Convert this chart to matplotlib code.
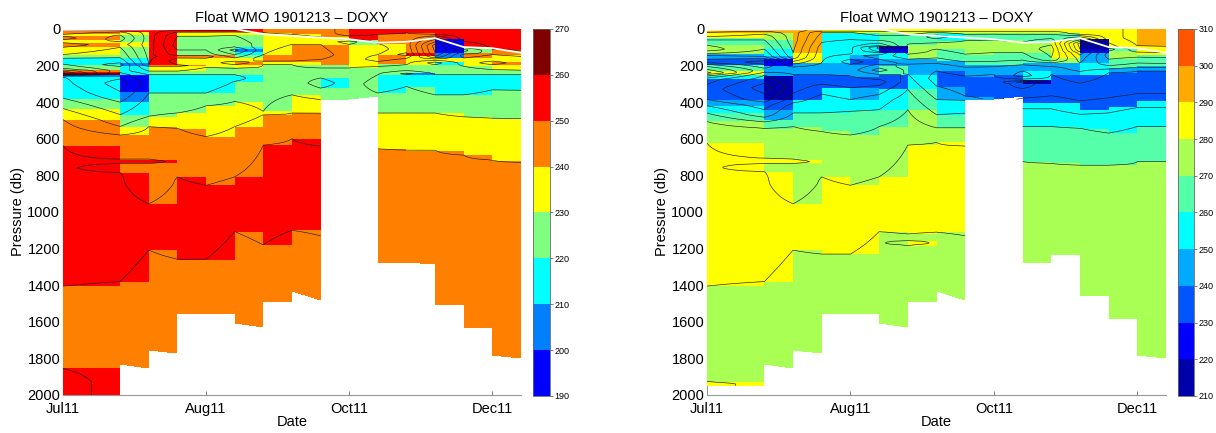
import numpy as np
import matplotlib
matplotlib.use("Agg")
import matplotlib.pyplot as plt
import matplotlib.dates as mdates
from matplotlib.colors import ListedColormap, BoundaryNorm
from matplotlib.cm import ScalarMappable

plt.rcParams['font.family'] = ['Liberation Sans', 'DejaVu Sans']

# profile dates (10-day Argo cycle, one profile missing)
prof_dates = ['2011-07-08', '2011-07-28', '2011-08-07', '2011-08-17', '2011-08-27',
              '2011-09-06', '2011-09-16', '2011-09-26', '2011-10-06', '2011-10-16',
              '2011-10-26', '2011-11-05', '2011-11-15', '2011-11-25', '2011-12-05',
              '2011-12-15']
tick_dates = ['2011-07-08', '2011-08-27', '2011-10-16', '2011-12-05']

# white line near the surface (db), one value per profile
mld = [5, 3, 2, 1, 0, 0, 28, 38, 47, 56, 75, 70, 50, 99, 105, 130]

# DOXY per profile: (top pressure of layer, value)
left_doxy = [
    [(0, 255), (6, 245), (30, 235), (40, 245), (58, 235), (75, 245), (100, 235), (140, 225), (160, 215),
     (192, 225), (222, 245), (231, 255), (240, 265), (250, 205), (262, 215), (378, 225), (435, 235),
     (495, 245), (636, 255), (1405, 245), (1855, 255)],
    [(0, 255), (11, 235), (33, 225), (70, 235), (100, 225), (158, 215), (185, 205), (205, 215), (250, 195),
     (342, 205), (400, 215), (468, 225), (533, 235), (579, 245), (713, 255), (735, 245), (785, 255), (1380, 245)],
    [(0, 255), (195, 245), (205, 235), (230, 225), (250, 215), (350, 225), (477, 235), (533, 245), (713, 255),
     (735, 245), (955, 255), (1208, 245)],
    [(0, 255), (11, 235), (39, 225), (140, 245), (158, 235), (195, 245), (205, 235), (230, 225), (250, 215),
     (350, 225), (459, 235), (542, 245), (808, 255), (1258, 245)],
    [(0, 255), (11, 235), (39, 225), (140, 245), (160, 235), (210, 225), (250, 215), (350, 225), (420, 235),
     (588, 245), (854, 255), (1258, 245)],
    [(0, 255), (11, 235), (35, 225), (99, 215), (110, 205), (122, 215), (140, 225), (158, 235), (176, 245),
     (195, 235), (215, 225), (250, 215), (286, 225), (396, 235), (533, 245), (808, 255), (1107, 245)],
    [(0, 245), (20, 235), (140, 245), (176, 235), (195, 225), (450, 235), (468, 245), (634, 255), (1180, 245)],
    [(0, 245), (28, 235), (84, 245), (176, 235), (195, 225), (360, 235), (459, 245), (600, 255), (1100, 245)],
    [(0, 245), (44, 235), (84, 245), (195, 225), (268, 215), (323, 225), (386, 235), (460, 245), (640, 255),
     (1130, 245)],
    [(0, 255), (57, 225), (84, 235), (213, 225)],
    [(0, 255), (30, 245), (80, 235), (140, 245), (190, 225), (250, 215), (350, 225), (459, 235), (655, 245)],
    [(0, 255), (20, 245), (130, 255), (149, 235), (195, 225), (238, 205), (248, 215), (314, 225), (459, 235),
     (661, 245)],
    [(0, 255), (51, 195), (130, 205), (158, 235), (176, 215), (195, 225), (250, 215), (360, 225), (459, 235),
     (661, 245)],
    [(0, 255), (103, 225), (130, 245), (158, 235), (204, 225), (250, 215), (360, 225), (480, 235), (689, 245)],
    [(0, 255), (112, 245), (140, 235), (176, 245), (195, 235), (222, 225), (250, 215), (332, 225), (487, 235),
     (716, 245)],
    [(0, 255), (120, 245), (150, 235), (200, 235), (225, 225), (250, 215), (335, 225), (490, 235), (730, 245)],
]

right_doxy = [
    [(0, 295), (18, 285), (50, 265), (90, 275), (135, 245), (165, 235), (193, 265), (230, 285), (248, 255),
     (275, 235), (386, 245), (420, 255), (460, 265), (505, 275), (624, 285), (1405, 275), (1928, 285)],
    [(0, 295), (18, 275), (60, 265), (110, 255), (150, 245), (165, 225), (202, 245), (253, 215), (386, 235),
     (441, 245), (496, 265), (542, 275), (707, 285), (735, 275), (780, 285), (1380, 275)],
    [(0, 295), (129, 285), (184, 245), (248, 235), (386, 255), (459, 265), (533, 275), (713, 285), (735, 275),
     (955, 285), (1208, 275)],
    [(0, 285), (18, 255), (184, 245), (248, 235), (321, 255), (459, 265), (560, 275), (808, 285), (1230, 275)],
    [(0, 285), (18, 255), (138, 245), (165, 235), (193, 245), (257, 235), (321, 245), (386, 255), (450, 265),
     (579, 275), (854, 285), (1230, 275)],
    [(0, 285), (18, 265), (92, 215), (110, 225), (129, 255), (165, 245), (202, 265), (248, 235), (330, 255),
     (441, 265), (533, 275), (808, 285), (1107, 275)],
    [(0, 285), (18, 265), (83, 275), (165, 245), (248, 255), (330, 265), (441, 275), (634, 285), (1120, 275),
     (1157, 285), (1181, 275)],
    [(0, 285), (18, 255), (64, 275), (110, 265), (174, 245), (230, 235), (312, 245), (386, 255), (468, 265),
     (540, 275), (620, 285), (1110, 275)],
    [(0, 285), (18, 265), (64, 275), (138, 265), (193, 245), (257, 235), (367, 245), (390, 255), (460, 265),
     (540, 275), (640, 285), (1130, 275)],
    [(0, 285), (18, 265), (60, 275), (129, 265), (193, 245), (248, 235)],
    [(0, 285), (18, 265), (73, 275), (129, 265), (184, 245), (230, 255), (280, 215), (300, 235), (404, 255),
     (533, 265), (725, 275)],
    [(0, 285), (18, 265), (64, 285), (156, 275), (184, 245), (248, 235), (404, 255), (533, 265), (735, 275)],
    [(0, 285), (51, 215), (110, 225), (129, 245), (184, 255), (248, 235), (441, 255), (542, 265), (744, 275)],
    [(0, 285), (101, 265), (120, 275), (165, 265), (212, 245), (239, 235), (422, 255), (569, 265), (744, 275)],
    [(0, 295), (92, 285), (138, 265), (202, 245), (230, 235), (395, 255), (533, 265), (725, 275)],
    [(0, 295), (95, 285), (140, 265), (205, 245), (230, 235), (395, 255), (533, 265), (725, 275)],
]

# deepest pressure of each column (left edge, right edge)
left_bottom = [(2000, 2000), (1833, 1855), (1756, 1770), (1557, 1555), (1555, 1557), (1607, 1629),
               (1484, 1491), (1432, 1482), (386, 380), (380, 367), (1280, 1273), (1275, 1283),
               (1506, 1508), (1631, 1634), (1781, 1796)]
right_bottom = [(1950, 1950), (1833, 1855), (1756, 1770), (1557, 1555), (1555, 1557), (1607, 1629),
                (1484, 1491), (1432, 1482), (386, 380), (380, 367), (1280, 1276), (1230, 1233),
                (1456, 1458), (1580, 1583), (1781, 1796)]

left_levels = list(range(190, 271, 10))
right_levels = list(range(210, 311, 10))
left_colors = ['#0000ff', '#0080ff', '#00ffff', '#80ff80', '#ffff00', '#ff8000', '#ff0000', '#800000']
right_colors = ['#0000aa', '#0000ff', '#0055ff', '#00aaff', '#00ffff', '#55ffaa', '#aaff55', '#ffff00',
                '#ffaa00', '#ff5500']

pres = np.arange(0, 2001, 5)


def expand(layers):
    v = np.full(pres.size, np.nan)
    for top, val in layers:
        v[pres >= top] = val
    return v


def contour_profile(layers, deep):
    # value at layer middles, class edge at layer boundaries
    layers = [(t, v) for t, v in layers if t < deep]
    tops = [t for t, v in layers]
    vals = [v for t, v in layers]
    bots = tops[1:] + [deep]
    kp, kv = [0], [vals[0]]
    for i in range(len(vals)):
        kp.append((tops[i] + bots[i]) / 2)
        kv.append(vals[i])
        if i < len(vals) - 1:
            kp.append(bots[i])
            kv.append((vals[i] + vals[i + 1]) / 2)
    kp.append(deep)
    kv.append(vals[-1])
    f = np.interp(pres, kp, kv)
    f[pres > deep] = np.nan
    return f


def draw_panel(ax, cax, layers, bottoms, levels, colors):
    cmap = ListedColormap(colors)
    norm = BoundaryNorm(levels, cmap.N)
    x = mdates.datestr2num(prof_dates)
    grid = np.column_stack([expand(l) for l in layers])

    # one pcolor strip per column, coloured by the left profile
    for j in range(len(x) - 1):
        bl, br = bottoms[j]
        yy = np.column_stack([np.minimum(pres, bl), np.minimum(pres, br)])
        xx = np.tile([x[j], x[j + 1]], (pres.size, 1))
        c = grid[:-1, j:j + 1].copy()
        c[pres[:-1] >= max(bl, br)] = np.nan
        ax.pcolormesh(xx, yy, np.ma.masked_invalid(c), cmap=cmap, norm=norm,
                      shading='flat', antialiased=False, linewidth=0, zorder=3)

    # contours
    deeps = [max(bottoms[j - 1][1] if j > 0 else 0, bottoms[j][0] if j < len(x) - 1 else 0)
             for j in range(len(x))]
    g = np.column_stack([contour_profile(l, d) for l, d in zip(layers, deeps)])
    ax.contour(x, pres, np.ma.masked_invalid(g), levels=levels, colors='0.1',
               linewidths=0.45, zorder=4)
    ax.plot(x, mld, color='w', lw=1.3, zorder=5)

    ax.set_xlim(x[0], x[-1])
    ax.set_ylim(2000, 0)
    ax.set_yticks(range(0, 2001, 200))
    ax.set_xticks(mdates.datestr2num(tick_dates))
    ax.xaxis.set_major_formatter(mdates.DateFormatter('%b%y'))
    ax.tick_params(direction='in', length=3, width=0.6, color='0.4', labelsize=10.5)
    ax.tick_params(axis='x', pad=5)
    ax.tick_params(axis='y', pad=2)
    for s in ['top', 'right']:
        ax.spines[s].set_visible(False)
    for s in ['left', 'bottom']:
        ax.spines[s].set_color('0.6')
        ax.spines[s].set_linewidth(0.8)
    ax.set_xlabel('Date', fontsize=10.5, labelpad=-1)
    ax.set_ylabel('Pressure (db)', fontsize=10.5, labelpad=2)
    ax.set_title('Float WMO 1901213 – DOXY', fontsize=10.5, pad=5)

    cb = plt.colorbar(ScalarMappable(norm=norm, cmap=cmap), cax=cax, ticks=levels)
    cb.ax.tick_params(labelsize=6.5, length=2, width=0.5, color='0.3', pad=1)
    cb.outline.set_edgecolor('0.4')
    cb.outline.set_linewidth(0.6)


fig = plt.figure(figsize=(12.16, 4.33), dpi=100)
ax1 = fig.add_axes([0.0518, 0.0878, 0.3766, 0.8453])
cax1 = fig.add_axes([0.4383, 0.0855, 0.0140, 0.8476])
ax2 = fig.add_axes([0.5814, 0.0878, 0.3775, 0.8453])
cax2 = fig.add_axes([0.9688, 0.0855, 0.0132, 0.8476])

draw_panel(ax1, cax1, left_doxy, left_bottom, left_levels, left_colors)
draw_panel(ax2, cax2, right_doxy, right_bottom, right_levels, right_colors)

fig.savefig('out.png', dpi=100)
